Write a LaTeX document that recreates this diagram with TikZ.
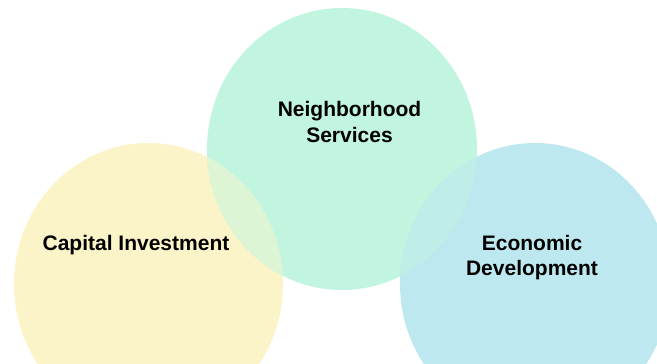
\documentclass[tikz,border=0pt]{standalone}
\usepackage{fontspec}
\setmainfont{Liberation Sans}
\usepackage{tikz}
\definecolor{capcol}{HTML}{FBF4C8}
\definecolor{nbcol}{HTML}{C1F5E0}
\definecolor{eccol}{HTML}{BEE8EF}
\definecolor{capnbcol}{HTML}{DEF5D5}
\definecolor{nbeccol}{HTML}{BFEDE8}
\begin{document}
\begin{tikzpicture}[x=1pt, y=-1pt,
  lbl/.style={font=\bfseries\fontsize{21}{25.7}\selectfont, align=center, inner sep=0pt}]
\useasboundingbox (0,0) rectangle (657,364);
\clip (0,0) rectangle (657,364);
\fill[capcol] (148.5,284) ellipse (134.5 and 141);
\fill[nbcol] (342,149) ellipse (135 and 141);
\fill[eccol] (535,284) ellipse (135 and 141);
% overlaps
\begin{scope}
\clip (148.5,284) ellipse (134.5 and 141);
\fill[capnbcol] (342,149) ellipse (135 and 141);
\end{scope}
\begin{scope}
\clip (535,284) ellipse (135 and 141);
\fill[nbeccol] (342,149) ellipse (135 and 141);
\end{scope}
\node[lbl] (cap) at (136,245) {Capital Investment};
\node[lbl] (nb) at (349.5,122) {Neighborhood\\Services};
\node[lbl] (ec) at (532,257.5) {Economic\\Development};
\end{tikzpicture}
\end{document}
